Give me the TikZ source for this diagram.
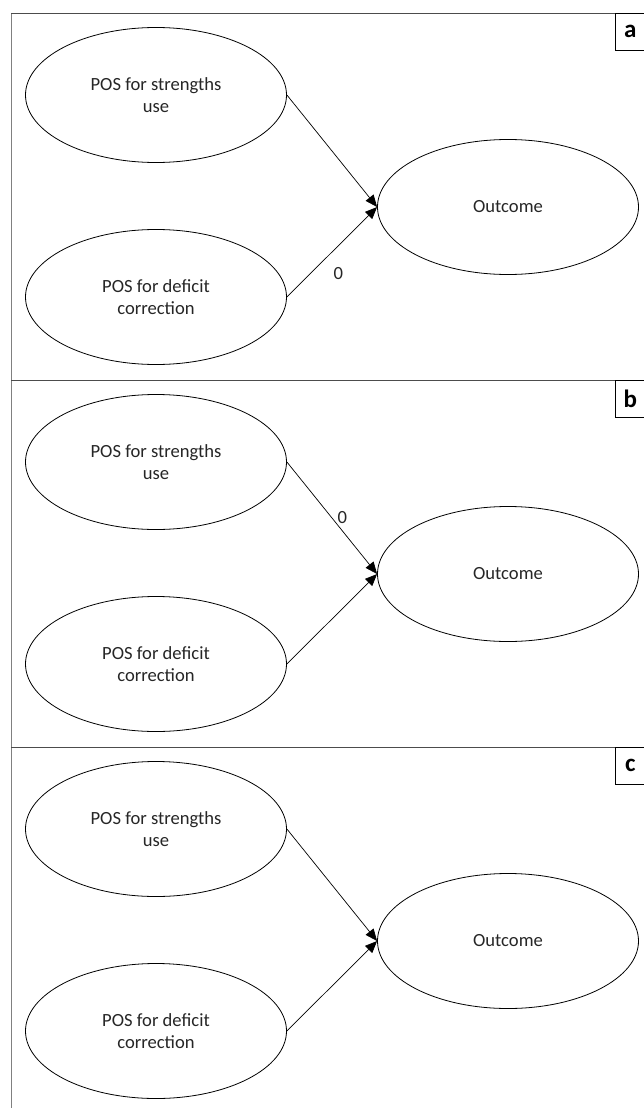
\documentclass[tikz,border=0pt]{standalone}
\usepackage{fontspec}
\setmainfont{Carlito}
\usetikzlibrary{positioning,shapes.geometric,arrows.meta}
\tikzset{
  construct/.style={
      draw,
      ellipse,
      line width=0.8pt,
      minimum width=261pt,
      minimum height=135pt,
      inner sep=0pt,
      align=center,
      text=black!85,
      font=\fontsize{18.6}{22}\selectfont,
  },
  effect/.style={
      line width=0.7pt,
      -{Triangle[length=12pt,width=10pt]},
  },
  weight/.style={
      text=black!85,
      font=\fontsize{18.6}{22}\selectfont,
  },
  panellabel/.style={
      draw,
      line width=0.7pt,
      anchor=north west,
      minimum width=30pt,
      minimum height=37pt,
      inner sep=0pt,
      font=\fontsize{25}{28}\selectfont\bfseries,
  },
  frame/.style={
      line width=0.9pt,
      black!70,
  }
}

\begin{document}
\begin{tikzpicture}[x=1pt,y=-1pt]
  \useasboundingbox (0,0) rectangle (643,1108);

  % left border of the three panels
  \draw[frame, gray] (11,13) -- (11,1108);

  \foreach \p/\off in {a/0, b/367, c/734} {
      \draw[frame] (11,13+\off) -- (643,13+\off);
      \node[panellabel] (lab\p) at (615,13+\off) {\p};

      \node[construct] (s\p) at (156,95+\off)  {POS for strengths\\use};
      \node[construct] (d\p) at (156,297+\off) {POS for deficit\\correction};
      \node[construct] (o\p) at (508,207+\off) {Outcome};

      \draw[effect] (s\p.east) -- (o\p.west);
      \draw[effect] (d\p.east) -- (o\p.west);
  }

  % fixed paths
  \path (da.east) -- (oa.west) node[weight, midway, below right=12pt and -2pt] {0};
  \path (sb.east) -- (ob.west) node[weight, midway, right=2pt] {0};
\end{tikzpicture}
\end{document}
